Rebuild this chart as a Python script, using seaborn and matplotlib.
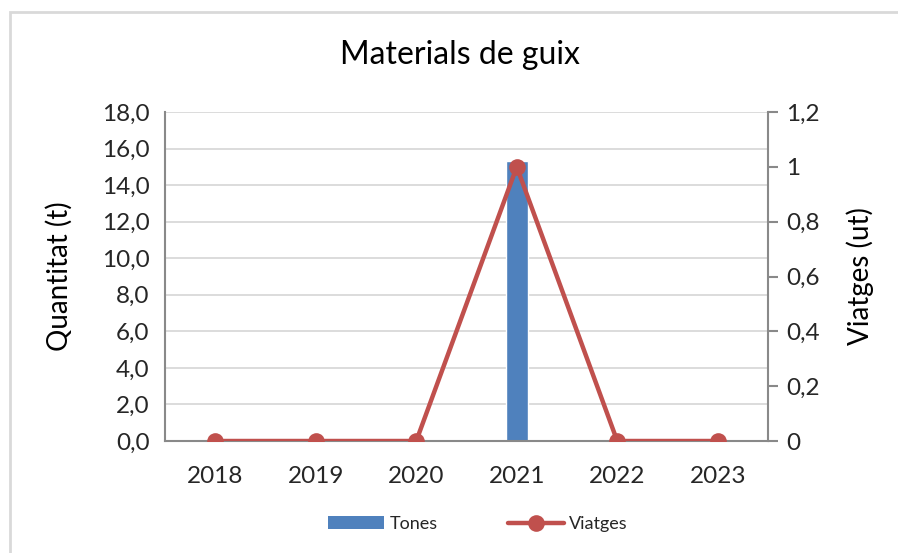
import matplotlib
matplotlib.use("Agg")
import matplotlib.pyplot as plt
from matplotlib.patches import Rectangle, Patch
from matplotlib.lines import Line2D
from matplotlib.ticker import FuncFormatter, FixedLocator
import seaborn as sns
import pandas as pd

years = ["2018", "2019", "2020", "2021", "2022", "2023"]
tones = [0.0, 0.0, 0.0, 15.3, 0.0, 0.0]
viatges = [0, 0, 0, 1, 0, 0]

blue = "#4F81BD"
red = "#C0504D"
grey = "#898989"

sns.set_theme(style="white")
plt.rcParams["font.family"] = ["Lato", "DejaVu Sans"]

df = pd.DataFrame({"Any": years, "Tones": tones, "Viatges": viatges})

fig = plt.figure(figsize=(8.98, 5.53), dpi=100)
ax = fig.add_axes([165 / 898, 1 - 441 / 553, (768 - 165) / 898, (441 - 112) / 553])

# chart frame
fig.patches.append(Rectangle((10 / 898, -0.01), 1.0, 1 - 12 / 553 + 0.01,
                             transform=fig.transFigure, fill=False,
                             edgecolor="#D9D9D9", linewidth=2))

sns.barplot(data=df, x="Any", y="Tones", color=blue, width=0.22,
            saturation=1, ax=ax, zorder=2)
ax.set_xlim(-0.5, 5.5)
ax.set_ylim(0, 18)
ax.yaxis.set_major_locator(FixedLocator([i * 2 for i in range(10)]))
ax.yaxis.set_major_formatter(FuncFormatter(lambda v, p: f"{v:.1f}".replace(".", ",")))
ax.grid(axis="y", color="#D9D9D9", linewidth=1.3, zorder=0)
ax.set_axisbelow(True)
for s in ["top", "right"]:
    ax.spines[s].set_visible(False)
for s in ["left", "bottom"]:
    ax.spines[s].set_color(grey)
    ax.spines[s].set_linewidth(1.5)
ax.tick_params(axis="both", length=0, labelsize=17.5, colors="#262626")
ax.tick_params(axis="y", pad=11)
ax.tick_params(axis="x", pad=18)
ax.set_xlabel("")
ax.set_ylabel("Quantitat (t)", fontsize=20, color="#000000", labelpad=21)

ax2 = ax.twinx()
sns.lineplot(data=df, x="Any", y="Viatges", color=red, linewidth=3.2,
             marker="o", markersize=12, markeredgewidth=0, ax=ax2, zorder=3)
ax2.set_xlim(-0.5, 5.5)
ax2.set_ylim(0, 1.2)
ax2.yaxis.set_major_locator(FixedLocator([0, 0.2, 0.4, 0.6, 0.8, 1.0, 1.2]))
ax2.yaxis.set_major_formatter(
    FuncFormatter(lambda v, p: "0" if abs(v) < 1e-9 else ("1" if abs(v - 1) < 1e-9 else f"{v:.1f}".replace(".", ","))))
for s in ["top", "left", "bottom"]:
    ax2.spines[s].set_visible(False)
ax2.spines["right"].set_color(grey)
ax2.spines["right"].set_linewidth(1.5)
ax2.tick_params(axis="y", length=7, width=1.5, color=grey, direction="out",
                labelsize=17.5, labelcolor="#262626", pad=6)
ax2.set_ylabel("Viatges (ut)", fontsize=20, color="#000000", labelpad=19)
ax2.grid(False)

fig.text(460 / 898, 1 - 55 / 553, "Materials de guix",
         ha="center", va="center", fontsize=23, color="#000000")

handles = [Patch(facecolor=blue, edgecolor="none"),
           Line2D([0], [0], color=red, linewidth=3.2, marker="o", markersize=12,
                  markeredgewidth=0)]
fig.legend(handles, ["Tones", "Viatges"], loc="center",
           bbox_to_anchor=(478 / 898, 1 - 524 / 553), ncol=2, frameon=False,
           fontsize=13, handlelength=3.1, handleheight=0.7,
           columnspacing=3.9, handletextpad=0.3)

fig.savefig("out.png", dpi=100)
